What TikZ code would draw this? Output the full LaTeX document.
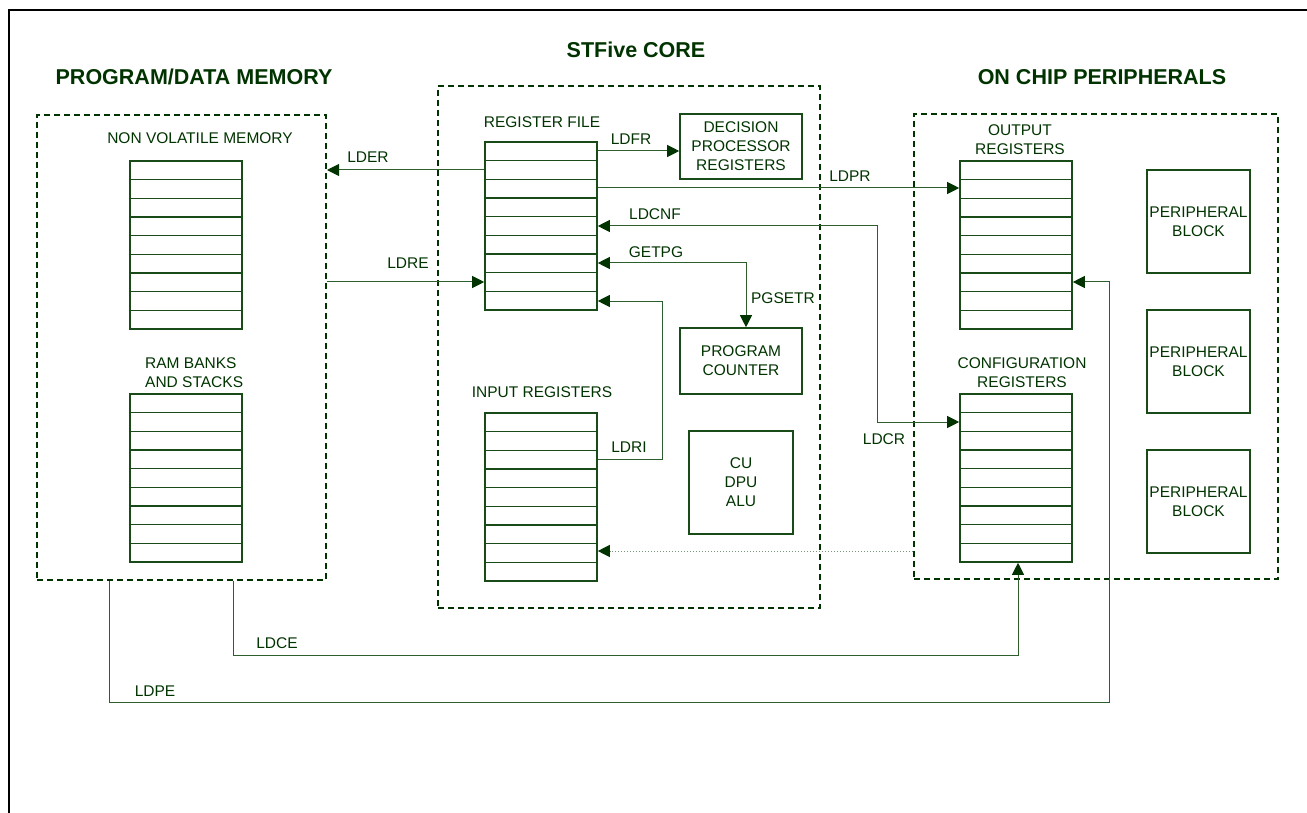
\documentclass[tikz,border=0pt]{standalone}
\usepackage{fontspec}
\setmainfont{Liberation Sans}
\usetikzlibrary{arrows.meta,calc}
\definecolor{dkgreen}{RGB}{0,51,0}
\definecolor{stkgreen}{RGB}{25,75,25}
\definecolor{lngreen}{RGB}{45,95,45}
\definecolor{dotgreen}{RGB}{120,150,120}
\begin{document}
\begin{tikzpicture}[x=1pt,y=-1pt,
  >={Triangle[length=12pt,width=12pt,color=dkgreen]},
  lbl/.style={text=dkgreen, font=\fontsize{15.5}{19}\selectfont, inner sep=0pt, align=center},
  ttl/.style={text=dkgreen, font=\fontsize{21.5}{25}\selectfont\bfseries, inner sep=0pt},
  stack/.style={draw=stkgreen, line width=1.6pt, minimum width=112pt, minimum height=168pt, inner sep=0pt,
    path picture={\foreach \i in {1,...,8}{\draw[stkgreen, line width=1.3pt]
      ($(path picture bounding box.north west)!\i/9!(path picture bounding box.south west)$) --
      ($(path picture bounding box.north east)!\i/9!(path picture bounding box.south east)$);}}},
  blk/.style={lbl, draw=stkgreen, line width=1.6pt},
  grp/.style={draw=dkgreen, line width=2pt, dash pattern=on 6pt off 4pt, inner sep=0pt},
  conn/.style={draw=lngreen, line width=1pt},
  dotconn/.style={draw=dotgreen, line width=1pt, dotted}
]
\useasboundingbox (0,0) rectangle (1307,813);
% outer frame
\draw[black, line width=2pt] (9,813) -- (9,10) -- (1307,10);

% titles
\node[ttl] (tmem) at (194,77) {PROGRAM/DATA MEMORY};
\node[ttl] (tcore) at (636,50) {STFive CORE};
\node[ttl] (tper) at (1102,77) {ON CHIP PERIPHERALS};

% groups
\node[grp, minimum width=289pt, minimum height=465pt] (mem) at (181.5,347.5) {};
\node[grp, minimum width=382pt, minimum height=522pt] (core) at (629,347) {};
\node[grp, minimum width=364pt, minimum height=465pt] (per) at (1096,346.5) {};

% memory side
\node[lbl] (nvl) at (200,138) {NON VOLATILE MEMORY};
\node[stack] (nv) at (186,245) {};
\node[lbl, align=left, anchor=west] (raml) at (145,373) {RAM BANKS\\AND STACKS};
\node[stack] (ram) at (186,478) {};

% core
\node[lbl] (rfl) at (542,122) {REGISTER FILE};
\node[stack] (rf) at (541,226) {};
\node[lbl] (irl) at (542,392) {INPUT REGISTERS};
\node[stack] (ir) at (541,497) {};
\node[blk, minimum width=122pt, minimum height=65pt] (dpr) at (741,146.5) {DECISION\\PROCESSOR\\REGISTERS};
\node[blk, minimum width=122pt, minimum height=66pt] (pc) at (741,361) {PROGRAM\\COUNTER};
\node[blk, minimum width=104pt, minimum height=103pt] (alu) at (741,482.5) {CU\\DPU\\ALU};

% peripherals
\node[lbl] (orl) at (1020,139.5) {OUTPUT\\REGISTERS};
\node[stack] (or) at (1016,245) {};
\node[lbl] (crl) at (1022,372.5) {CONFIGURATION\\REGISTERS};
\node[stack] (cr) at (1016,478) {};
\node[blk, minimum width=103pt, minimum height=103pt] (pb1) at (1198.5,221.5) {PERIPHERAL\\BLOCK};
\node[blk, minimum width=103pt, minimum height=103pt] (pb2) at (1198.5,361.5) {PERIPHERAL\\BLOCK};
\node[blk, minimum width=103pt, minimum height=103pt] (pb3) at (1198.5,501.5) {PERIPHERAL\\BLOCK};

% connectors
\draw[conn,->] (rf.west |- 0,170) -- (mem.east |- 0,170);
\draw[conn,->] (mem.east |- 0,282) -- (rf.west |- 0,282);
\draw[conn,->] (rf.east |- 0,151) -- (dpr.west |- 0,151);
\draw[conn,->] (rf.east |- 0,188) -- (or.west |- 0,188);
\draw[conn,<->] (rf.east |- 0,226) -- (877,226) -- (877,422) -- (cr.west |- 0,422);
\draw[conn,<->] (rf.east |- 0,263) -| ([xshift=5pt]pc.north);
\draw[conn,->] (ir.east |- 0,459) -- (662,459) -- (662,301) -- (rf.east |- 0,301);
\draw[dotconn,->] (per.west |- 0,551) -- (ir.east |- 0,551);
\draw[conn,->] (233,0 |- mem.south) -- (233,655) -| ([xshift=2pt]cr.south);
\draw[conn,->] (109,0 |- mem.south) -- (109,702) -- (1109,702) -- (1109,282) -- (or.east |- 0,282);

% connector labels
\node[lbl] (lder) at (368,157) {LDER};
\node[lbl] (ldre) at (408,263) {LDRE};
\node[lbl] (ldfr) at (631,139) {LDFR};
\node[lbl] (ldpr) at (850,176) {LDPR};
\node[lbl] (ldcnf) at (655,214) {LDCNF};
\node[lbl] (getpg) at (656,252) {GETPG};
\node[lbl] (pgsetr) at (783,298) {PGSETR};
\node[lbl] (ldri) at (629,447) {LDRI};
\node[lbl] (ldcr) at (884,439) {LDCR};
\node[lbl] (ldce) at (277,643) {LDCE};
\node[lbl] (ldpe) at (155,691) {LDPE};
\end{tikzpicture}
\end{document}
